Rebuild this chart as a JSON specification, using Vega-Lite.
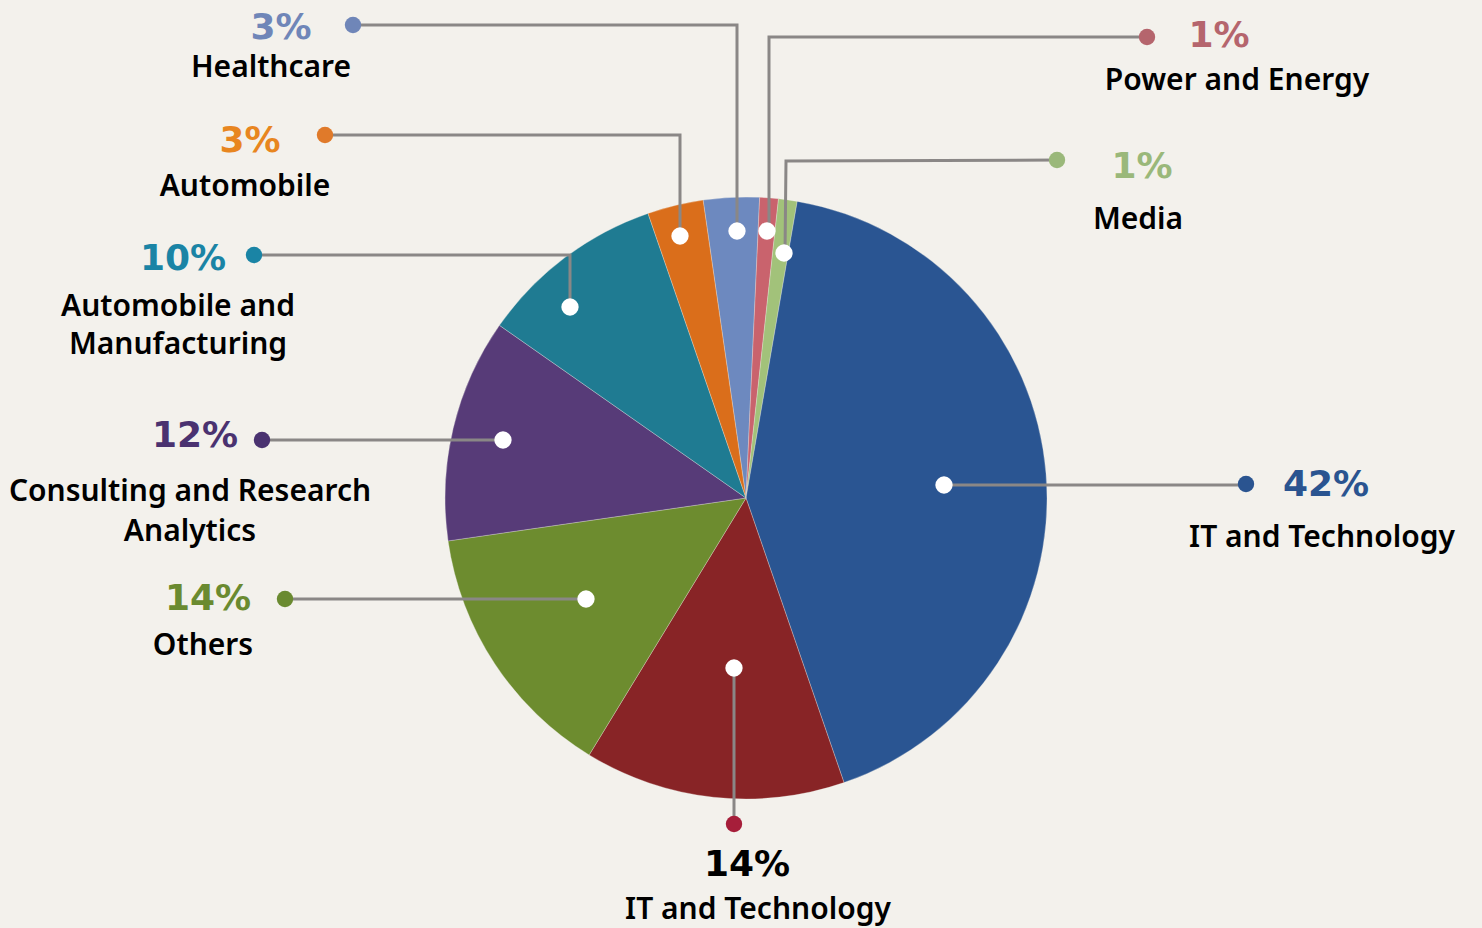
{
  "$schema": "https://vega.github.io/schema/vega-lite/v6.json",
  "width": 1482,
  "height": 928,
  "autosize": "none",
  "padding": 0,
  "background": "#f3f1ec",
  "config": {"view": {"stroke": null}},
  "datasets": {
    "slices": [
      {"key": "Healthcare", "ord": 1, "value": 3},
      {"key": "Power", "ord": 2, "value": 1},
      {"key": "Media", "ord": 3, "value": 1},
      {"key": "IT42", "ord": 4, "value": 42},
      {"key": "IT14", "ord": 5, "value": 14},
      {"key": "Others", "ord": 6, "value": 14},
      {"key": "Consulting", "ord": 7, "value": 12},
      {"key": "AutoMfg", "ord": 8, "value": 10},
      {"key": "Automobile", "ord": 9, "value": 3}
    ],
    "lines": [
      {"key": "Healthcare", "seq": 1, "px": 353, "py": 25},
      {"key": "Healthcare", "seq": 2, "px": 737, "py": 25},
      {"key": "Healthcare", "seq": 3, "px": 737, "py": 231},
      {"key": "Power", "seq": 1, "px": 1147, "py": 37},
      {"key": "Power", "seq": 2, "px": 769, "py": 37},
      {"key": "Power", "seq": 3, "px": 769, "py": 231},
      {"key": "Media", "seq": 1, "px": 1057, "py": 160},
      {"key": "Media", "seq": 2, "px": 786, "py": 161},
      {"key": "Media", "seq": 3, "px": 785, "py": 253},
      {"key": "Automobile", "seq": 1, "px": 325, "py": 135},
      {"key": "Automobile", "seq": 2, "px": 680, "py": 135},
      {"key": "Automobile", "seq": 3, "px": 680, "py": 236},
      {"key": "AutoMfg", "seq": 1, "px": 254, "py": 255},
      {"key": "AutoMfg", "seq": 2, "px": 570, "py": 255},
      {"key": "AutoMfg", "seq": 3, "px": 570, "py": 307},
      {"key": "Consulting", "seq": 1, "px": 262, "py": 440},
      {"key": "Consulting", "seq": 2, "px": 503, "py": 440},
      {"key": "Others", "seq": 1, "px": 285, "py": 599},
      {"key": "Others", "seq": 2, "px": 586, "py": 599},
      {"key": "IT42", "seq": 1, "px": 944, "py": 485},
      {"key": "IT42", "seq": 2, "px": 1246, "py": 485},
      {"key": "IT14", "seq": 1, "px": 734, "py": 668},
      {"key": "IT14", "seq": 2, "px": 734, "py": 824}
    ],
    "inner": [
      {"key": "Healthcare", "px": 737, "py": 231},
      {"key": "Power", "px": 767, "py": 231},
      {"key": "Media", "px": 784, "py": 253},
      {"key": "Automobile", "px": 680, "py": 236},
      {"key": "AutoMfg", "px": 570, "py": 307},
      {"key": "Consulting", "px": 503, "py": 440},
      {"key": "Others", "px": 586, "py": 599},
      {"key": "IT42", "px": 944, "py": 485},
      {"key": "IT14", "px": 734, "py": 668}
    ],
    "outer": [
      {"key": "Healthcare", "px": 353, "py": 25},
      {"key": "Power", "px": 1147, "py": 37},
      {"key": "Media", "px": 1057, "py": 160},
      {"key": "Automobile", "px": 325, "py": 135},
      {"key": "AutoMfg", "px": 254, "py": 255},
      {"key": "Consulting", "px": 262, "py": 440},
      {"key": "Others", "px": 285, "py": 599},
      {"key": "IT42", "px": 1246, "py": 484},
      {"key": "IT14", "px": 734, "py": 824}
    ],
    "pct": [
      {"key": "Healthcare", "label": "3%", "px": 281, "py": 28},
      {"key": "Power", "label": "1%", "px": 1219, "py": 36},
      {"key": "Media", "label": "1%", "px": 1142, "py": 167},
      {"key": "Automobile", "label": "3%", "px": 250, "py": 141},
      {"key": "AutoMfg", "label": "10%", "px": 183, "py": 259},
      {"key": "Consulting", "label": "12%", "px": 195, "py": 436},
      {"key": "Others", "label": "14%", "px": 208, "py": 599},
      {"key": "IT42", "label": "42%", "px": 1326, "py": 485},
      {"key": "IT14txt", "label": "14%", "px": 747, "py": 865}
    ],
    "names": [
      {"label": "Healthcare", "px": 271, "py": 68},
      {"label": "Power and Energy", "px": 1237, "py": 81},
      {"label": "Media", "px": 1138, "py": 220},
      {"label": "Automobile", "px": 245, "py": 187},
      {"label": "Automobile and", "px": 178, "py": 307},
      {"label": "Manufacturing", "px": 178, "py": 345},
      {"label": "Consulting and Research", "px": 190, "py": 492},
      {"label": "Analytics", "px": 190, "py": 532},
      {"label": "Others", "px": 203, "py": 646},
      {"label": "IT and Technology", "px": 1322, "py": 538},
      {"label": "IT and Technology", "px": 758, "py": 910}
    ]
  },
  "resolve": {"scale": {"fill": "independent", "color": "independent"}},
  "layer": [
    {
      "data": {"name": "slices"},
      "mark": {"type": "arc", "outerRadius": 301, "stroke": "#f3f1ec", "strokeWidth": 0.3},
      "encoding": {
        "theta": {"field": "value", "type": "quantitative", "stack": true, "scale": {"range": [-0.1431, 6.1401]}},
        "order": {"field": "ord", "type": "quantitative"},
        "color": {
          "field": "key", "type": "nominal", "legend": null,
          "scale": {
            "domain": ["Healthcare", "Power", "Media", "IT42", "IT14", "Others", "Consulting", "AutoMfg", "Automobile"],
            "range": ["#6d89bf", "#c9636d", "#a2c27a", "#2a5592", "#882426", "#6d8c2f", "#573b78", "#1f7b92", "#da6e1b"]
          }
        },
        "x": {"datum": 746, "type": "quantitative", "scale": {"domain": [0, 1482], "nice": false, "zero": false}, "axis": null},
        "y": {"datum": 498, "type": "quantitative", "scale": {"domain": [0, 928], "nice": false, "zero": false, "reverse": true}, "axis": null}
      }
    },
    {
      "data": {"name": "lines"},
      "mark": {"type": "line", "color": "#8a8786", "strokeWidth": 3},
      "encoding": {
        "x": {"field": "px", "type": "quantitative"},
        "y": {"field": "py", "type": "quantitative"},
        "detail": {"field": "key"},
        "order": {"field": "seq", "type": "quantitative"}
      }
    },
    {
      "data": {"name": "inner"},
      "mark": {"type": "circle", "color": "#ffffff", "opacity": 1, "size": 300},
      "encoding": {
        "x": {"field": "px", "type": "quantitative"},
        "y": {"field": "py", "type": "quantitative"}
      }
    },
    {
      "data": {"name": "outer"},
      "mark": {"type": "circle", "opacity": 1, "size": 270},
      "encoding": {
        "x": {"field": "px", "type": "quantitative"},
        "y": {"field": "py", "type": "quantitative"},
        "fill": {
          "field": "key", "type": "nominal", "legend": null,
          "scale": {
            "domain": ["Healthcare", "Power", "Media", "IT42", "IT14", "Others", "Consulting", "AutoMfg", "Automobile"],
            "range": ["#6f86b8", "#b5656d", "#9ab87a", "#2a5490", "#a61e3a", "#6a8a30", "#4a3270", "#1a84a5", "#e07a2a"]
          }
        }
      }
    },
    {
      "data": {"name": "pct"},
      "mark": {"type": "text", "font": "DejaVu Sans", "fontWeight": "bold", "fontSize": 36, "align": "center", "baseline": "middle"},
      "encoding": {
        "x": {"field": "px", "type": "quantitative"},
        "y": {"field": "py", "type": "quantitative"},
        "text": {"field": "label"},
        "color": {
          "field": "key", "type": "nominal", "legend": null,
          "scale": {
            "domain": ["Healthcare", "Power", "Media", "IT42", "IT14txt", "Others", "Consulting", "AutoMfg", "Automobile"],
            "range": ["#6f86b8", "#b5656d", "#9ab87a", "#2a5490", "#000000", "#6a8a30", "#4a3270", "#1a84a5", "#e8861f"]
          }
        }
      }
    },
    {
      "data": {"name": "names"},
      "mark": {"type": "text", "font": "Noto Sans", "fontWeight": 600, "fontSize": 30, "align": "center", "baseline": "middle", "color": "#000000"},
      "encoding": {
        "x": {"field": "px", "type": "quantitative"},
        "y": {"field": "py", "type": "quantitative"},
        "text": {"field": "label"}
      }
    }
  ]
}
